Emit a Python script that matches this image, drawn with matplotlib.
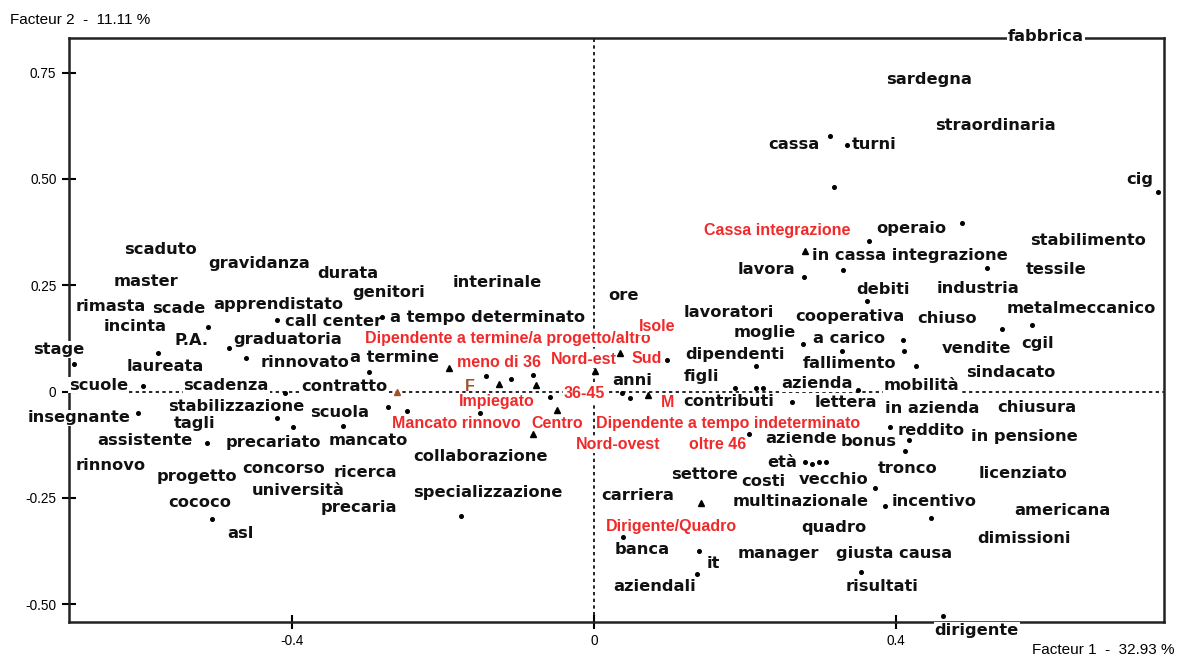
import matplotlib
matplotlib.use('Agg')
import matplotlib.pyplot as plt

# active words (black labels), coordinates on factor 1 / factor 2
words = ['fabbrica', 'sardegna', 'straordinaria', 'cassa', 'turni', 'cig', 'operaio',
         'stabilimento', 'in cassa integrazione', 'lavora', 'tessile', 'debiti', 'industria',
         'metalmeccanico', 'cooperativa', 'chiuso', 'a carico', 'vendite', 'cgil', 'moglie',
         'dipendenti', 'fallimento', 'sindacato', 'azienda', 'mobilità', 'lettera',
         'in azienda', 'chiusura', 'reddito', 'in pensione', 'aziende', 'bonus', 'età',
         'tronco', 'licenziato', 'costi', 'vecchio', 'multinazionale', 'incentivo',
         'americana', 'quadro', 'dimissioni', 'manager', 'giusta causa', 'risultati',
         'dirigente', 'collaborazione', 'settore', 'specializzazione', 'carriera', 'banca',
         'it', 'aziendali', 'assistente', 'precariato', 'mancato', 'rinnovo', 'progetto',
         'concorso', 'ricerca', 'università', 'cococo', 'precaria', 'asl', 'scaduto',
         'gravidanza', 'durata', 'genitori', 'master', 'rimasta', 'scade', 'apprendistato',
         'incinta', 'call center', 'a tempo determinato', 'P.A.', 'graduatoria', 'stage',
         'laureata', 'rinnovato', 'a termine', 'scuole', 'scadenza', 'contratto',
         'insegnante', 'stabilizzazione', 'scuola', 'tagli', 'interinale', 'ore',
         'lavoratori', 'anni', 'figli', 'contributi']
word_x = [0.599, 0.444, 0.532, 0.265, 0.371, 0.723, 0.420,
          0.654, 0.419, 0.228, 0.612, 0.383, 0.509,
          0.646, 0.339, 0.468, 0.338, 0.506, 0.587, 0.226,
          0.187, 0.339, 0.552, 0.296, 0.434, 0.334,
          0.448, 0.587, 0.446, 0.570, 0.275, 0.364, 0.250,
          0.415, 0.568, 0.224, 0.317, 0.274, 0.450,
          0.621, 0.318, 0.570, 0.244, 0.397, 0.382,
          0.507, -0.150, 0.146, -0.141, 0.058, 0.064,
          0.158, 0.080, -0.595, -0.425, -0.299, -0.640, -0.526,
          -0.411, -0.302, -0.391, -0.522, -0.311, -0.468, -0.574,
          -0.443, -0.326, -0.272, -0.593, -0.640, -0.549, -0.418,
          -0.607, -0.345, -0.141, -0.533, -0.405, -0.708,
          -0.567, -0.382, -0.264, -0.656, -0.487, -0.330,
          -0.681, -0.474, -0.336, -0.529, -0.128, 0.039,
          0.179, 0.051, 0.143, 0.179]
word_y = [0.836, 0.733, 0.625, 0.580, 0.580, 0.498, 0.384,
          0.355, 0.321, 0.286, 0.286, 0.241, 0.243,
          0.196, 0.176, 0.172, 0.125, 0.102, 0.112, 0.138,
          0.088, 0.065, 0.045, 0.018, 0.015, -0.025,
          -0.040, -0.037, -0.091, -0.106, -0.111, -0.118, -0.167,
          -0.182, -0.193, -0.212, -0.207, -0.258, -0.258,
          -0.279, -0.320, -0.345, -0.380, -0.382, -0.458,
          -0.561, -0.152, -0.195, -0.238, -0.245, -0.371,
          -0.404, -0.459, -0.116, -0.120, -0.116, -0.175, -0.199,
          -0.182, -0.190, -0.232, -0.262, -0.273, -0.334, 0.333,
          0.302, 0.278, 0.234, 0.258, 0.200, 0.196, 0.204,
          0.154, 0.164, 0.175, 0.121, 0.123, 0.099,
          0.060, 0.068, 0.079, 0.015, 0.013, 0.011,
          -0.062, -0.036, -0.050, -0.076, 0.256, 0.225,
          0.186, 0.025, 0.035, -0.024]

# supplementary categories (red labels)
cats = ['Cassa integrazione', 'Dipendente a termine/a progetto/altro', 'Isole', 'meno di 36',
        'Nord-est', 'Sud', '36-45', 'Impiegato', 'M', 'Mancato rinnovo', 'Centro',
        'Dipendente a tempo indeterminato', 'Nord-ovest', 'oltre 46', 'Dirigente/Quadro']
cat_x = [0.243, -0.114, 0.084, -0.126, -0.013, 0.070, -0.013, -0.129, 0.097, -0.182,
         -0.048, 0.178, 0.032, 0.164, 0.103]
cat_y = [0.378, 0.124, 0.152, 0.068, 0.076, 0.078, -0.004, -0.024, -0.026, -0.076,
         -0.076, -0.076, -0.124, -0.124, -0.318]

# hidden category F (brown)
f_label = 'F'
f_x, f_y = -0.164, 0.012
f_tri_x, f_tri_y = -0.261, -0.001

# point markers
dot_x = [0.313, 0.335, 0.318, 0.747, 0.487, 0.364, 0.278, 0.330, 0.521, 0.362, 0.540,
         0.580, 0.277, 0.409, 0.411, 0.328, 0.426, 0.350, 0.262, 0.392, 0.417, 0.412,
         0.280, 0.289, 0.298, 0.307, 0.372, 0.385, 0.446, 0.354, 0.462, 0.205, -0.176,
         0.038, 0.139, 0.136, -0.512, -0.506, -0.511, -0.419, -0.281, -0.483, -0.689,
         -0.577, -0.461, -0.298, -0.597, -0.409, -0.604, -0.273, -0.420, -0.399, -0.332,
         -0.248, -0.143, -0.110, -0.081, -0.058, -0.151, 0.048, 0.037, 0.097, 0.187,
         0.215, 0.224, 0.215]
dot_y = [0.601, 0.580, 0.482, 0.470, 0.396, 0.355, 0.270, 0.286, 0.291, 0.213, 0.146,
         0.156, 0.111, 0.121, 0.095, 0.095, 0.061, 0.004, -0.024, -0.083, -0.114, -0.140,
         -0.166, -0.171, -0.166, -0.166, -0.226, -0.269, -0.298, -0.424, -0.528, -0.100, -0.293,
         -0.342, -0.375, -0.430, -0.122, -0.300, 0.151, 0.168, 0.175, 0.102, 0.065,
         0.091, 0.080, 0.045, 0.014, -0.003, -0.050, -0.037, -0.063, -0.084, -0.080,
         -0.046, 0.036, 0.029, 0.040, -0.012, -0.050, -0.016, -0.004, 0.074, 0.009,
         0.008, 0.008, 0.060]
tri_x = [0.279, -0.192, -0.125, -0.076, -0.049, -0.081, 0.001, 0.034, 0.072, 0.142]
tri_y = [0.330, 0.055, 0.018, 0.015, -0.044, -0.100, 0.049, 0.090, -0.008, -0.262]

red = '#f02a2a'
brown = '#a0522d'

fig = plt.figure(figsize=(11.77, 6.60), dpi=100)
ax = fig.add_axes([0.0586, 0.058, 0.9304, 0.885])
ax.set_xlim(-0.695, 0.755)
ax.set_ylim(-0.5415, 0.8325)

ax.axvline(0, color='black', lw=1.2, ls=(0, (2, 2)), zorder=1)
ax.axhline(0, color='black', lw=1.2, ls=(0, (2, 2)), zorder=1)

for s in ax.spines.values():
	s.set_linewidth(1.8)
	s.set_color('#222222')

ax.set_xticks([-0.4, 0, 0.4])
ax.set_xticklabels(['-0.4', '0', '0.4'])
ax.set_yticks([0.75, 0.5, 0.25, 0, -0.25, -0.5])
ax.set_yticklabels(['0.75', '0.50', '0.25', '0', '-0.25', '-0.50'])
ax.tick_params(direction='inout', length=10, width=1.5, labelsize=9.8, pad=4)
for t in ax.get_xticklabels() + ax.get_yticklabels():
	t.set_family('Liberation Sans')

box = dict(boxstyle='square,pad=0.05', fc='white', ec='none')

for w, x, y in zip(words, word_x, word_y):
	ax.text(x, y, w, ha='center', va='center', fontsize=11.7, fontweight='bold',
	        family='DejaVu Sans', color='#111111', bbox=box, zorder=3, clip_on=False)

for c, x, y in zip(cats, cat_x, cat_y):
	ax.text(x, y, c, ha='center', va='center', fontsize=11.5, fontweight='bold',
	        family='Liberation Sans', color=red, bbox=box, zorder=3, clip_on=False)

ax.text(f_x, f_y, f_label, ha='center', va='center', fontsize=11.5, fontweight='bold',
        family='Liberation Sans', color=brown, zorder=3)
ax.plot([f_tri_x], [f_tri_y], '^', color=brown, ms=4, zorder=4)

ax.plot(dot_x, dot_y, 'o', color='black', ms=2.6, ls='none', zorder=4)
ax.plot(tri_x, tri_y, '^', color='black', ms=4, ls='none', zorder=4)

fig.text(10 / 1177, 1 - 20 / 660, 'Facteur 2  -  11.11 %', ha='left', va='center',
         fontsize=11, family='Liberation Sans')
fig.text(1174 / 1177, 1 - 650 / 660, 'Facteur 1  -  32.93 %', ha='right', va='center',
         fontsize=11, family='Liberation Sans')

fig.savefig('out.png', dpi=100)
